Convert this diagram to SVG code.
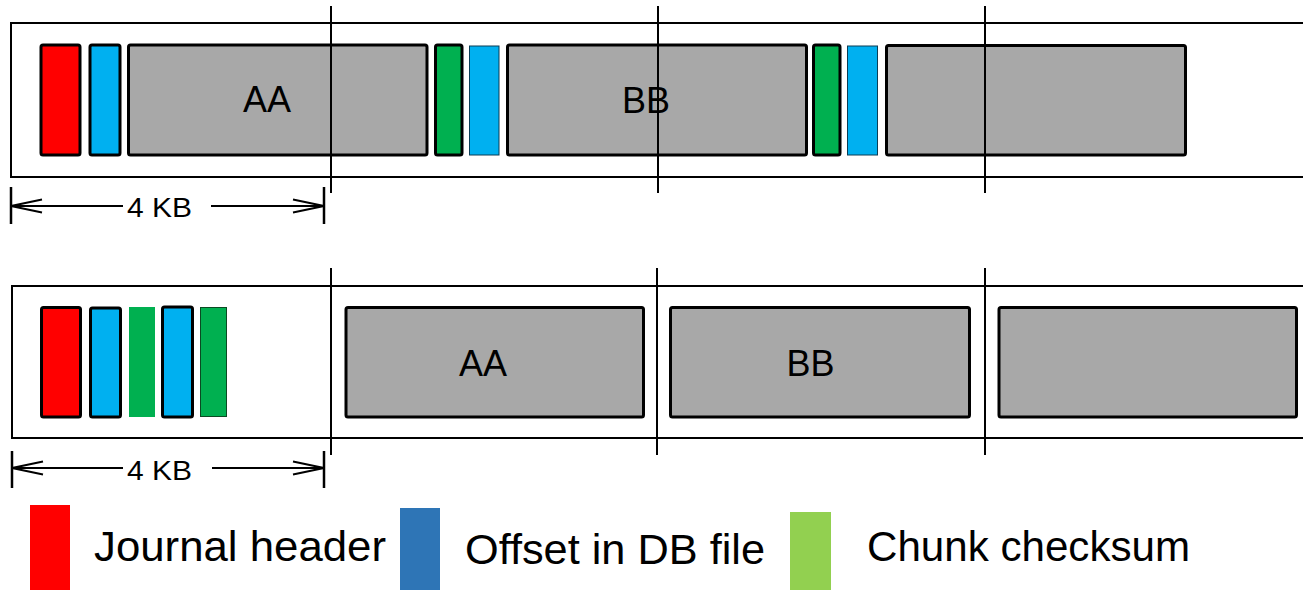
<svg xmlns="http://www.w3.org/2000/svg" width="1303" height="590" viewBox="0 0 1303 590">
<style>
.strip{fill:#fff;stroke:#000;stroke-width:2}
.blk{stroke:#000;stroke-width:3}
.gray{fill:#A8A8A8}
.red{fill:#FF0000}
.blue{fill:#00B0F0}
.green{fill:#00B050}
.thin{stroke:#0a3d55;stroke-width:1}
.thing{stroke:#0b4a22;stroke-width:1}
.div{stroke:#000;stroke-width:2}
.dim{stroke:#000;stroke-width:2;fill:none}
.tick{stroke:#000;stroke-width:2.5}
.lbl{font-family:"Liberation Sans",Arial,sans-serif;fill:#000}
</style>
<defs>
<marker id="arr" viewBox="0 0 32 14" refX="31" refY="7" markerWidth="32" markerHeight="14" markerUnits="userSpaceOnUse" orient="auto" overflow="visible">
<path d="M0,0.5 L31,7 L0,13.5" fill="none" stroke="#000" stroke-width="2"/>
</marker>
</defs>

<g id="strip-top">
<rect class="strip" x="11" y="23" width="1300" height="154"/>
</g>
<g id="top-header"><rect class="red blk" x="41" y="45" width="39" height="110" rx="2"/></g>
<g id="top-offset1"><rect class="blue blk" x="90" y="45" width="30" height="110" rx="2"/></g>
<g id="top-AA"><rect class="gray blk" x="128.5" y="45" width="298.5" height="110" rx="2"/>
<text class="lbl" x="267" y="112" font-size="36" text-anchor="middle">AA</text></g>
<g id="top-check1"><rect class="green blk" x="435.5" y="45" width="26.5" height="110" rx="2"/></g>
<g id="top-offset2"><rect class="blue thin" x="469.5" y="46" width="29.5" height="109"/></g>
<g id="top-BB"><rect class="gray blk" x="507.5" y="45" width="299" height="110" rx="2"/>
<text class="lbl" x="646" y="112.5" font-size="36" text-anchor="middle">BB</text></g>
<g id="top-check2"><rect class="green blk" x="813.5" y="45" width="26.5" height="110" rx="2"/></g>
<g id="top-offset3"><rect class="blue thin" x="847.5" y="46" width="30" height="109"/></g>
<g id="top-chunk3"><rect class="gray blk" x="886.5" y="45.5" width="299" height="109.5" rx="2"/></g>

<g id="strip-bottom">
<rect class="strip" x="12" y="286" width="1300" height="152"/>
</g>
<g id="bot-header"><rect class="red blk" x="41.5" y="307.5" width="39" height="109.5" rx="2"/></g>
<g id="bot-offset1"><rect class="blue blk" x="90.5" y="308" width="30" height="109" rx="2"/></g>
<g id="bot-check1"><rect class="green" x="129" y="307" width="26" height="110"/></g>
<g id="bot-offset2"><rect class="blue blk" x="162.5" y="307" width="30" height="110" rx="2"/></g>
<g id="bot-check2"><rect class="green thing" x="200.5" y="307.5" width="26" height="109"/></g>
<g id="bot-AA"><rect class="gray blk" x="346" y="307.5" width="297.5" height="109.5" rx="2"/>
<text class="lbl" x="483" y="376" font-size="36" text-anchor="middle">AA</text></g>
<g id="bot-BB"><rect class="gray blk" x="670.5" y="307.5" width="299" height="109.5" rx="2"/>
<text class="lbl" x="810.5" y="376" font-size="36" text-anchor="middle">BB</text></g>
<g id="bot-chunk3"><rect class="gray blk" x="999" y="307.5" width="297.5" height="109.5" rx="2"/></g>

<g id="connectors">
<line class="div" x1="331" y1="6" x2="331" y2="193"/>
<line class="div" x1="658" y1="6" x2="658" y2="193"/>
<line class="div" x1="985" y1="6" x2="985" y2="193"/>
<line class="div" x1="331" y1="268" x2="331" y2="455"/>
<line class="div" x1="657" y1="268" x2="657" y2="455"/>
<line class="div" x1="985" y1="268" x2="985" y2="455"/>

<line class="tick" x1="11" y1="187" x2="11" y2="224"/>
<line class="tick" x1="324" y1="187" x2="324" y2="224"/>
<line class="dim" x1="123" y1="206" x2="11" y2="206" marker-end="url(#arr)"/>
<line class="dim" x1="211" y1="206" x2="324" y2="206" marker-end="url(#arr)"/>

<line class="tick" x1="12" y1="451" x2="12" y2="488"/>
<line class="tick" x1="324" y1="451" x2="324" y2="488"/>
<line class="dim" x1="123" y1="468" x2="12" y2="468" marker-end="url(#arr)"/>
<line class="dim" x1="212" y1="468" x2="324" y2="468" marker-end="url(#arr)"/>
</g>
<g id="dim-top-label"><text class="lbl" x="127" y="217" font-size="28" textLength="65" lengthAdjust="spacingAndGlyphs">4 KB</text></g>
<g id="dim-bot-label"><text class="lbl" x="127" y="480" font-size="28" textLength="65" lengthAdjust="spacingAndGlyphs">4 KB</text></g>

<g id="legend-header"><rect x="30" y="505" width="40" height="85" fill="#FF0000"/>
<text class="lbl" x="94" y="561" font-size="42" textLength="292" lengthAdjust="spacingAndGlyphs">Journal header</text></g>
<g id="legend-offset"><rect x="400" y="508" width="40" height="82" fill="#2E75B6"/>
<text class="lbl" x="465" y="564" font-size="42" textLength="300" lengthAdjust="spacingAndGlyphs">Offset in DB file</text></g>
<g id="legend-checksum"><rect x="790" y="512" width="41" height="78" fill="#92D050"/>
<text class="lbl" x="867" y="561" font-size="42" textLength="323" lengthAdjust="spacingAndGlyphs">Chunk checksum</text></g>
</svg>
